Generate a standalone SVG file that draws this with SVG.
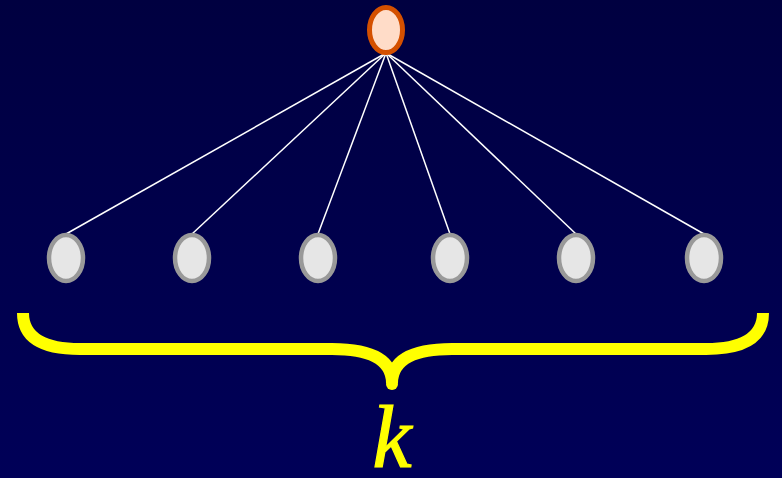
<svg xmlns="http://www.w3.org/2000/svg" width="782" height="478" viewBox="0 0 782 478">
<defs>
<linearGradient id="bg" x1="0" y1="0" x2="0" y2="1">
<stop offset="0" stop-color="#000040"/>
<stop offset="1" stop-color="#000058"/>
</linearGradient>
<style>
.leaf{fill:#e6e6e6;stroke:#999999;stroke-width:4.5}
.root{fill:#ffdcc8;stroke:#d45000;stroke-width:5}
.edge{stroke:#ffffff;stroke-width:1.5;fill:none}
.brace{stroke:#ffff00;stroke-width:12;fill:none}
</style>
</defs>
<rect width="782" height="478" fill="url(#bg)"/>
<g id="connectors">
<line class="edge" x1="386" y1="53" x2="66" y2="234"/>
<line class="edge" x1="386" y1="53" x2="192" y2="234"/>
<line class="edge" x1="386" y1="53" x2="318" y2="234"/>
<line class="edge" x1="386" y1="53" x2="450" y2="234"/>
<line class="edge" x1="386" y1="53" x2="576" y2="234"/>
<line class="edge" x1="386" y1="53" x2="704" y2="234"/>
</g>
<g id="root"><ellipse class="root" cx="386" cy="30" rx="16.5" ry="22.5"/></g>
<g id="leaf1"><ellipse class="leaf" cx="66" cy="258" rx="17" ry="23"/></g>
<g id="leaf2"><ellipse class="leaf" cx="192" cy="258" rx="17" ry="23"/></g>
<g id="leaf3"><ellipse class="leaf" cx="318" cy="258" rx="17" ry="23"/></g>
<g id="leaf4"><ellipse class="leaf" cx="450" cy="258" rx="17" ry="23"/></g>
<g id="leaf5"><ellipse class="leaf" cx="576" cy="258" rx="17" ry="23"/></g>
<g id="leaf6"><ellipse class="leaf" cx="704" cy="258" rx="17" ry="23"/></g>
<g id="brace">
<path class="brace" d="M 23 313 Q 23 349 80 349 L 332 349 Q 392 349 392 383"/>
<path class="brace" d="M 392 383 Q 392 349 452 349 L 706 349 Q 763 349 763 313"/>
<circle cx="392" cy="384" r="6" fill="#ffff00"/>
</g>
<text x="392" y="467" text-anchor="middle" font-family="'Liberation Serif', serif" font-style="italic" font-size="88" fill="#ffff00" stroke="#ffff00" stroke-width="1.2">k</text>
</svg>
